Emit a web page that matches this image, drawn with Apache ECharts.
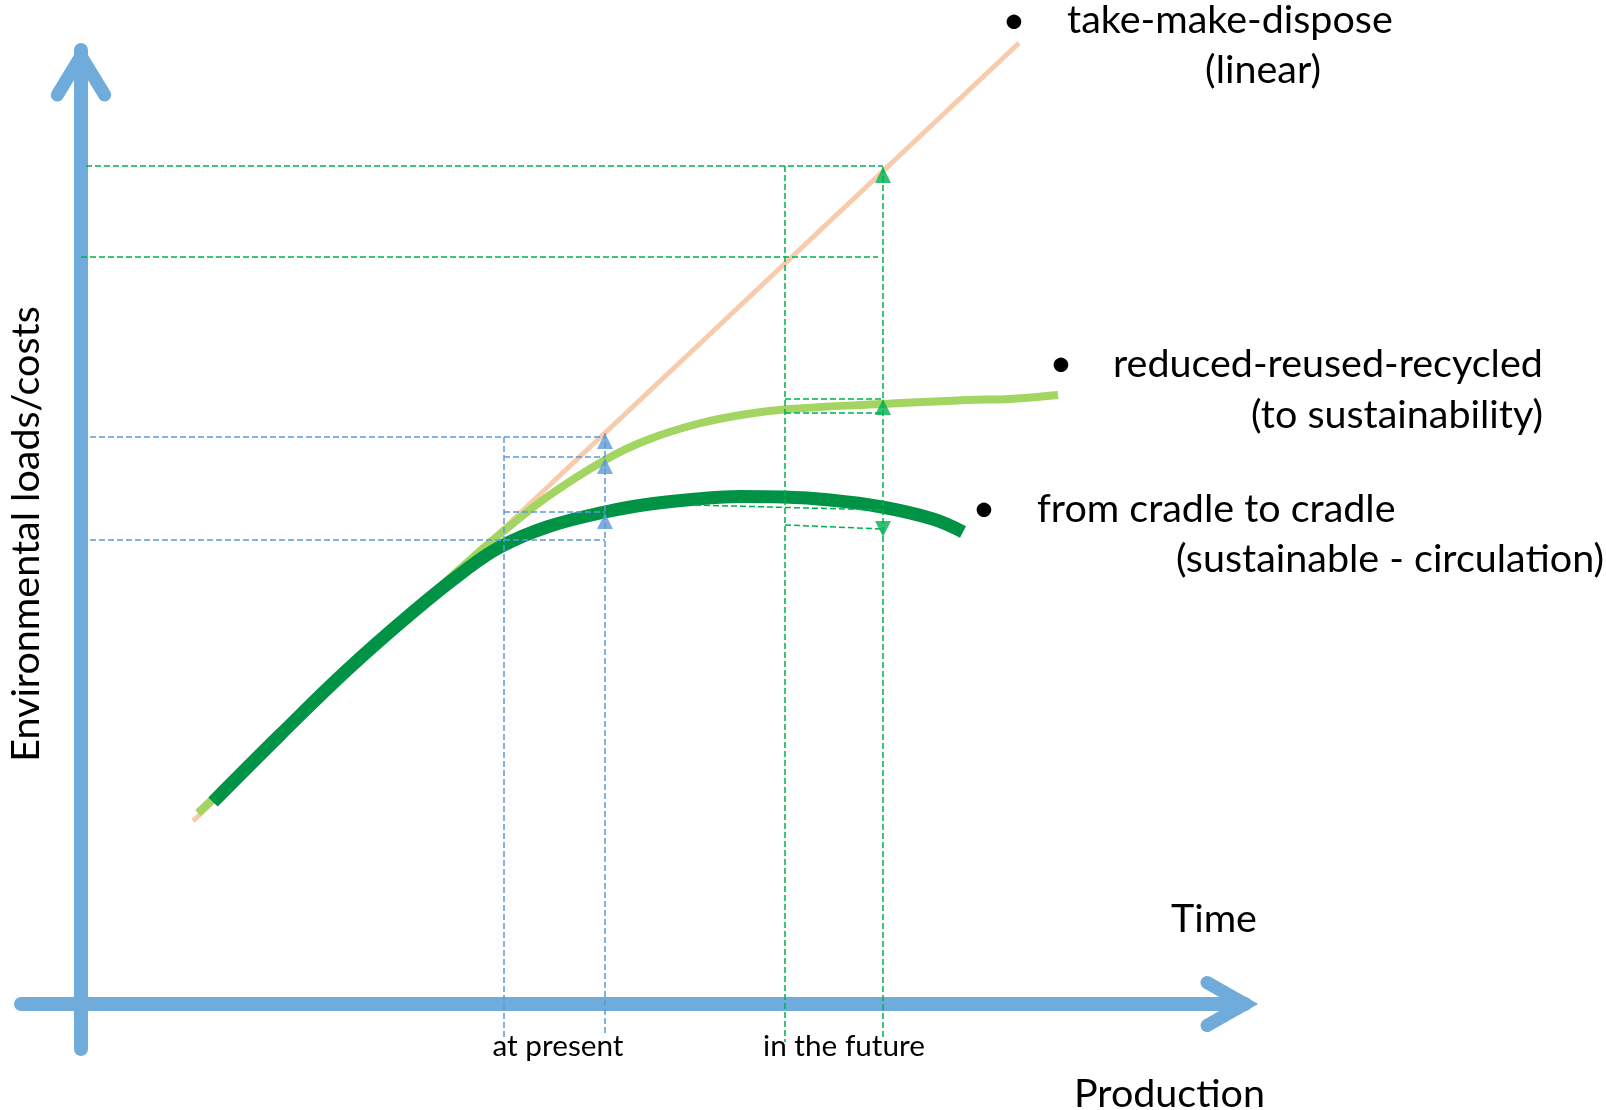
<!DOCTYPE html>
<html><head><meta charset="utf-8">
<script src="https://cdn.jsdelivr.net/npm/echarts@6.0.0/dist/echarts.min.js"></script>
<style>html,body{margin:0;padding:0;background:#fff;}#c{width:1606px;height:1110px;}</style>
</head><body><div id="c"></div>
<script>
// ---- data (conceptual units: x = production/time, y = environmental loads) ----
const X_MIN = -6, X_MAX = 116.4, Y_MIN = -4.5, Y_MAX = 95.4;

const linearLine = [[11.2, 18.3], [93.8, 96.1]];

const recycledCurve = [
  [11.7, 19.1], [21.9, 28.7], [31.9, 38.1], [39.9, 45.3], [42.4, 47.4],
  [46.6, 50.7], [52.4, 54.4], [56.6, 56.4], [61.6, 58.0], [66.6, 59.0],
  [70.9, 59.5], [80.1, 60.0], [88.6, 60.4], [92.9, 60.5], [97.7, 60.9]
];

const cradleCurve = [
  [13.2, 20.2], [19.9, 26.9], [26.6, 33.4], [33.2, 39.2], [38.2, 43.2],
  [41.9, 45.7], [46.6, 47.7], [52.4, 49.2], [56.9, 50.0], [61.6, 50.5],
  [65.9, 50.75], [70.2, 50.7], [74.9, 50.4], [80.1, 49.7], [85.2, 48.5], [88.2, 47.2]
];

const blueGuides = [
  [[0.9, 56.7], [52.4, 56.7]],
  [[0.9, 46.4], [52.4, 46.4]],
  [[42.3, 56.7], [42.3, -3.6]],
  [[42.3, 54.7], [52.4, 54.7]],
  [[42.3, 49.2], [52.4, 49.2]],
  [[52.4, 57.1], [52.4, -3.1]]
];

const greenGuides = [
  [[0.5, 83.8], [80.2, 83.8]],
  [[0.0, 74.7], [79.7, 74.7]],
  [[70.4, 83.8], [70.4, -3.8]],
  [[80.2, 83.7], [80.2, -3.6]],
  [[70.4, 60.5], [80.2, 60.5]],
  [[70.4, 59.1], [80.2, 59.1]],
  [[61.4, 49.9], [80.1, 49.4]],
  [[70.4, 47.9], [80.1, 47.5]]
];

const blueArrowUp = [[52.4, 57.1], [52.4, 54.6], [52.4, 49.1]];
const greenArrowUp = [[80.2, 83.7], [80.2, 60.5]];
const greenArrowDown = [[80.2, 46.7]];

const legendTitles = ['take-make-dispose', 'reduced-reused-recycled', 'from cradle to cradle'];
const legendSubtitles = ['(linear)', '(to sustainability)', '(sustainable - circulation)'];
const yAxisTitle = 'Environmental loads/costs';
const xAxisTitles = ['Time', 'Production'];
const periodLabels = ['at present', 'in the future'];

// ---- styles ----
const AXIS_BLUE = '#6FACDC';
const DASH_BLUE = '#5B9BD5';
const DASH_GREEN = '#00B050';
const C_LINEAR = '#F8CBAD';
const C_RECYCLED = '#A2D561';
const C_CRADLE = '#009245';
const FAMILY = 'Lato';

function fitSize(text, width) {
  const ctx = document.createElement('canvas').getContext('2d');
  ctx.font = '100px ' + FAMILY;
  return 100 * width / ctx.measureText(text).width;
}
const BIG = fitSize('reduced-reused-recycled', 430);
const SMALL = fitSize('at present', 131);

const chart = echarts.init(document.getElementById('c'), null, {renderer: 'canvas'});

function guideSeries(segs, color) {
  return segs.map(s => ({
    type: 'line', data: s, symbol: 'none', silent: true, clip: false, z: 6,
    lineStyle: {color: color, width: 1.5, type: [6, 3]}
  }));
}

const option = {
  animation: false,
  backgroundColor: '#fff',
  grid: {left: 21, right: 361, top: 50, bottom: 61},
  xAxis: {
    type: 'value', min: X_MIN, max: X_MAX,
    axisLine: {show: true, onZero: true, lineStyle: {color: AXIS_BLUE, width: 14}},
    axisTick: {show: false}, axisLabel: {show: false}, splitLine: {show: false}
  },
  yAxis: {
    type: 'value', min: Y_MIN, max: Y_MAX,
    axisLine: {show: true, onZero: true, lineStyle: {color: AXIS_BLUE, width: 14}},
    axisTick: {show: false}, axisLabel: {show: false}, splitLine: {show: false}
  },
  series: [
    {type: 'line', data: linearLine, symbol: 'none', clip: false, z: 3,
     lineStyle: {color: C_LINEAR, width: 5}},
    {type: 'line', data: recycledCurve, symbol: 'none', clip: false, smooth: 0.4, z: 4,
     lineStyle: {color: C_RECYCLED, width: 8}},
    {type: 'line', data: cradleCurve, symbol: 'none', clip: false, smooth: 0.4, z: 5,
     lineStyle: {color: C_CRADLE, width: 13}},
    ...guideSeries(blueGuides, DASH_BLUE),
    ...guideSeries(greenGuides, DASH_GREEN),
    {type: 'scatter', data: blueArrowUp, symbol: 'triangle', symbolSize: [16, 16],
     symbolOffset: [0, '50%'], itemStyle: {color: DASH_BLUE}, z: 7, clip: false},
    {type: 'scatter', data: greenArrowUp, symbol: 'triangle', symbolSize: [16, 16],
     symbolOffset: [0, '50%'], itemStyle: {color: DASH_GREEN}, z: 7, clip: false},
    {type: 'scatter', data: greenArrowDown, symbol: 'triangle', symbolSize: [16, 16],
     symbolRotate: 180, symbolOffset: [0, '-50%'], itemStyle: {color: DASH_GREEN}, z: 7, clip: false}
  ]
};
chart.setOption(option);

// decorations: arrow heads and text annotations
const yTop = chart.convertToPixel({gridIndex: 0}, [0, Y_MAX]);
const xEnd = chart.convertToPixel({gridIndex: 0}, [X_MAX, 0]);
const yV = [yTop[0], yTop[1] + 6];
const xV = [xEnd[0], xEnd[1]];

function txt(text, x, y, size, align, extra) {
  return Object.assign({
    type: 'text', x: x, y: y, z: 100,
    style: {text: text, font: size.toFixed(2) + 'px ' + FAMILY, fill: '#000',
            align: align || 'left', verticalAlign: 'middle'}
  }, extra || {});
}

const graphic = [
  {type: 'polyline', z: 50,
   shape: {points: [[yV[0] - 23.7, yV[1] + 39], yV, [yV[0] + 23.7, yV[1] + 39]]},
   style: {stroke: AXIS_BLUE, lineWidth: 13, lineCap: 'round', lineJoin: 'miter', fill: null}},
  {type: 'polyline', z: 50,
   shape: {points: [[xV[0] - 38, xV[1] - 21.5], xV, [xV[0] - 38, xV[1] + 21.5]]},
   style: {stroke: AXIS_BLUE, lineWidth: 13, lineCap: 'round', lineJoin: 'miter', fill: null}},
  txt('•', 1014, 20, BIG, 'center'),
  txt(legendTitles[0], 1067, 20, BIG, 'left'),
  txt(legendSubtitles[0], 1321, 70, BIG, 'right'),
  txt('•', 1061, 363, BIG, 'center'),
  txt(legendTitles[1], 1113, 364, BIG, 'left'),
  txt(legendSubtitles[1], 1543, 415, BIG, 'right'),
  txt('•', 984, 508, BIG, 'center'),
  txt(legendTitles[2], 1037, 509, BIG, 'left'),
  txt(legendSubtitles[2], 1604, 559, BIG, 'right'),
  txt(xAxisTitles[0], 1171, 919, BIG, 'left'),
  txt(xAxisTitles[1], 1074, 1094, BIG, 'left'),
  txt(yAxisTitle, 26, 534, BIG, 'center', {rotation: Math.PI / 2}),
  txt(periodLabels[0], 558, 1046, SMALL, 'center'),
  txt(periodLabels[1], 844, 1046, SMALL, 'center')
];
chart.setOption({graphic: graphic});
</script>
</body></html>
